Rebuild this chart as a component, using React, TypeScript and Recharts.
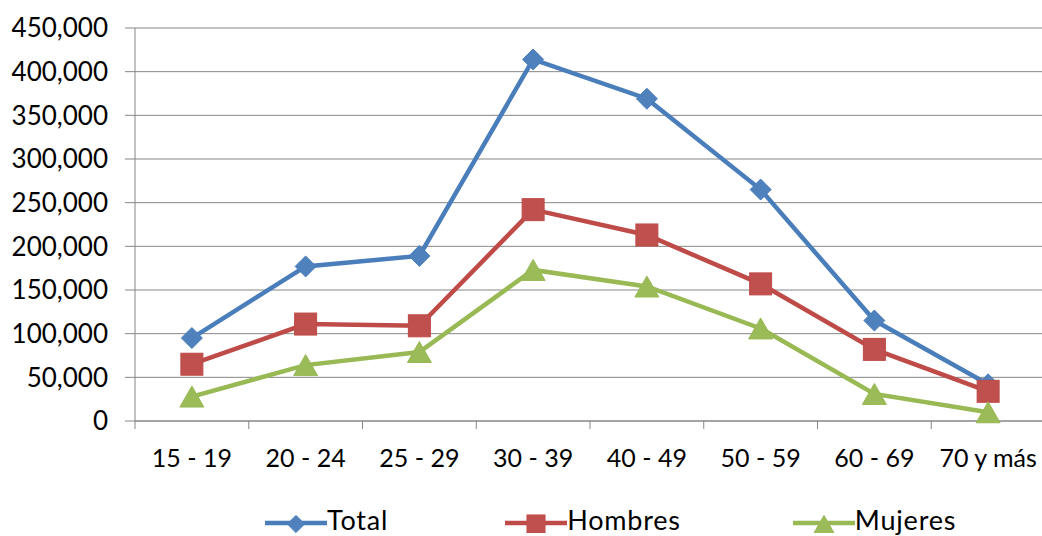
import React from "react";
import { LineChart, Line, XAxis, YAxis, CartesianGrid, Legend } from "recharts";

const ages = ["15 - 19", "20 - 24", "25 - 29", "30 - 39", "40 - 49", "50 - 59", "60 - 69", "70 y más"];
const totalValues = [95000, 177000, 189000, 414000, 369000, 265000, 115000, 42000];
const hombresValues = [65000, 111000, 109000, 242000, 213000, 157000, 82000, 34000];
const mujeresValues = [28000, 64000, 79000, 173000, 154000, 106000, 31000, 10000];
const yTicks = [0, 50000, 100000, 150000, 200000, 250000, 300000, 350000, 400000, 450000];

const data = ages.map((age, i) => ({
  age,
  Total: totalValues[i],
  Hombres: hombresValues[i],
  Mujeres: mujeresValues[i],
}));

const FONT = "Lato, 'Open Sans', sans-serif";
const AXIS = "#868686";
const CHART_W = 1050;
const CHART_H = 536;
const MARGIN_R = 5;
const Y_W = 135;
const BAND = (CHART_W - MARGIN_R - Y_W) / ages.length;

const series = [
  { key: "Total", line: "#4A7EBB", fill: "#4F81BD", shape: "diamond" },
  { key: "Hombres", line: "#BE4B48", fill: "#C0504D", shape: "square" },
  { key: "Mujeres", line: "#98B954", fill: "#9BBB59", shape: "triangle" },
];

function Marker({ cx, cy, shape, fill, stroke, s = 1 }: any) {
  if (cx == null || cy == null) return null;
  if (shape === "diamond") {
    const r = 10.5 * s;
    return (
      <polygon
        points={`${cx},${cy - r} ${cx + r},${cy} ${cx},${cy + r} ${cx - r},${cy}`}
        fill={fill}
        stroke={stroke}
        strokeWidth={1}
      />
    );
  }
  if (shape === "square") {
    const r = 11 * s;
    return <rect x={cx - r} y={cy - r} width={2 * r} height={2 * r} fill={fill} stroke={stroke} strokeWidth={1} />;
  }
  const w = 12 * s;
  const h = 10.5 * s;
  return (
    <polygon
      points={`${cx},${cy - h} ${cx + w},${cy + h} ${cx - w},${cy + h}`}
      fill={fill}
      stroke={stroke}
      strokeWidth={1}
    />
  );
}

function XTick(props: any) {
  const { x, y, payload } = props;
  return (
    <g>
      <line x1={x - BAND / 2} y1={y} x2={x - BAND / 2} y2={y + 8} stroke={AXIS} strokeWidth={1} />
      <text x={x} y={y + 46} textAnchor="middle" fill="#000" fontFamily={FONT} fontSize={25}>
        {payload.value}
      </text>
    </g>
  );
}

function LegendContent() {
  return (
    <div
      style={{
        display: "flex",
        alignItems: "flex-start",
        fontFamily: FONT,
        fontSize: 27,
        letterSpacing: 0.8,
        color: "#000",
        height: 27,
      }}
    >
      {series.map((s, i) => (
        <div key={s.key} style={{ display: "flex", alignItems: "flex-start", marginRight: i === 0 ? 117 : 112 }}>
          <svg width={62} height={27} style={{ display: "block" }}>
            <line x1={0} y1={17} x2={62} y2={17} stroke={s.line} strokeWidth={4.5} />
            <Marker cx={31} cy={18} shape={s.shape} fill={s.fill} stroke={s.line} s={0.82} />
          </svg>
          <span style={{ lineHeight: "27px", height: 27, whiteSpace: "nowrap", display: "block" }}>{s.key}</span>
        </div>
      ))}
    </div>
  );
}

export default function App() {
  return (
    <div
      style={{
        position: "absolute",
        left: 0,
        top: 0,
        width: 1042,
        height: 536,
        overflow: "hidden",
        background: "#fff",
      }}
    >
      <LineChart width={CHART_W} height={CHART_H} data={data} margin={{ top: 28, right: MARGIN_R, left: 0, bottom: 0 }}>
        <CartesianGrid vertical={false} stroke={AXIS} strokeWidth={1} />
        <XAxis
          dataKey="age"
          height={115}
          padding={{ left: BAND / 2, right: BAND / 2 }}
          axisLine={{ stroke: AXIS, strokeWidth: 1 }}
          tickLine={false}
          tickSize={0}
          tickMargin={0}
          interval={0}
          tick={<XTick />}
        />
        <YAxis
          width={Y_W}
          domain={[0, 450000]}
          ticks={yTicks}
          interval={0}
          axisLine={{ stroke: AXIS, strokeWidth: 1 }}
          tickLine={{ stroke: AXIS, strokeWidth: 1 }}
          tickSize={10}
          tickMargin={17}
          tickFormatter={(v: number) => v.toLocaleString("en-US")}
          tick={{ fill: "#000", fontFamily: FONT, fontSize: 26 }}
        />
        <Legend
          layout="horizontal"
          verticalAlign="middle"
          align="center"
          content={<LegendContent />}
          wrapperStyle={{ left: 265, top: 506, width: 770, height: 27 }}
        />
        {series.map((s) => (
          <Line
            key={s.key}
            type="linear"
            dataKey={s.key}
            stroke={s.line}
            strokeWidth={4.5}
            isAnimationActive={false}
            dot={(p: any) => (
              <Marker key={`${s.key}-${p.index}`} cx={p.cx} cy={p.cy} shape={s.shape} fill={s.fill} stroke={s.line} />
            )}
            activeDot={false}
          />
        ))}
      </LineChart>
    </div>
  );
}
